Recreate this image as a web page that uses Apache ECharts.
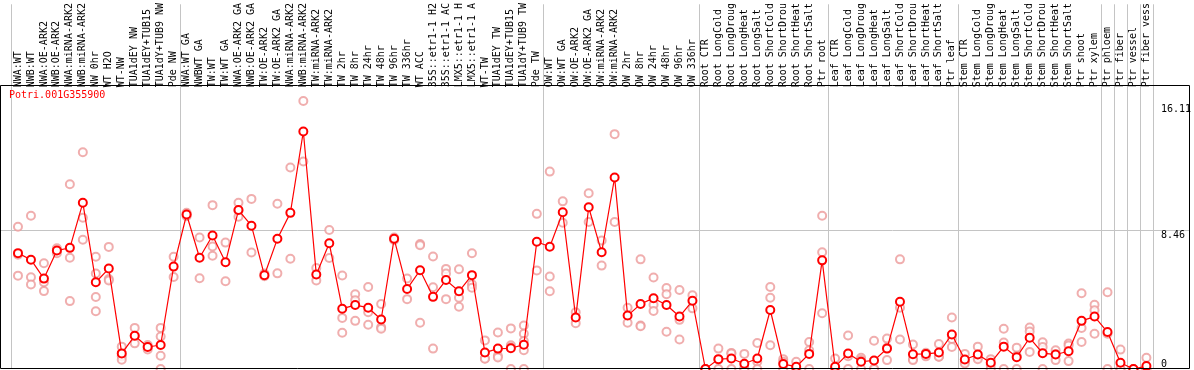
<!DOCTYPE html>
<html><head><meta charset="utf-8">
<script src="https://cdn.jsdelivr.net/npm/echarts@6/dist/echarts.min.js"></script>
<style>html,body{margin:0;padding:0;background:#fff}#c{width:1194px;height:370px}</style>
</head><body><div id="c"></div>
<script>
const geneId = 'Potri.001G355900';
const categories = [
 'NWA:WT','NWB:WT','NWA:OE-ARK2','NWB:OE-ARK2','NWA:miRNA-ARK2','NWB:miRNA-ARK2','NW 0hr','WT H2O','WT-NW','TUA1dEY NW','TUA1dEY+TUB15 NW','TUA1dY+TUB9 NW','Pde NW',
 'NWA:WT GA','NWBWT GA','TW:WT','TW:WT GA','NWA:OE-ARK2 GA','NWB:OE-ARK2 GA','TW:OE-ARK2','TW:OE-ARK2 GA','NWA:miRNA-ARK2 GA','NWB:miRNA-ARK2 GA','TW:miRNA-ARK2','TW:miRNA-ARK2 GA','TW 2hr','TW 8hr','TW 24hr','TW 48hr','TW 96hr','TW 336hr','WT ACC','35S::etr1-1 H2O','35S::etr1-1 ACC','LMX5::etr1-1 H2O','LMX5::etr1-1 ACC','WT-TW','TUA1dEY TW','TUA1dEY+TUB15 TW','TUA1dY+TUB9 TW','Pde TW',
 'OW:WT','OW:WT GA','OW:OE-ARK2','OW:OE-ARK2 GA','OW:miRNA-ARK2','OW:miRNA-ARK2 GA','OW 2hr','OW 8hr','OW 24hr','OW 48hr','OW 96hr','OW 336hr',
 'Root CTR','Root LongCold','Root LongDrought','Root LongHeat','Root LongSalt','Root ShortCold','Root ShortDrought','Root ShortHeat','Root ShortSalt','Ptr root',
 'Leaf CTR','Leaf LongCold','Leaf LongDrought','Leaf LongHeat','Leaf LongSalt','Leaf ShortCold','Leaf ShortDrought','Leaf ShortHeat','Leaf ShortSalt','Ptr leaf',
 'Stem CTR','Stem LongCold','Stem LongDrought','Stem LongHeat','Stem LongSalt','Stem ShortCold','Stem ShortDrought','Stem ShortHeat','Stem ShortSalt','Ptr shoot','Ptr xylem',
 'Ptr phloem','Ptr fiber','Ptr vessel','Ptr fiber vessel'
];
const means = [
 7.05,6.65,5.50,7.21,7.37,10.11,5.28,6.11,0.95,2.02,1.34,1.46,6.23,
 9.40,6.77,8.12,6.49,9.67,8.72,5.70,7.92,9.50,14.45,5.75,7.65,3.67,3.89,3.73,3.01,7.92,4.87,6.01,4.39,5.41,4.73,5.71,1.00,1.24,1.26,1.48,7.74,
 7.44,9.54,3.13,9.84,7.10,11.65,3.25,3.95,4.31,3.89,3.19,4.15,
 0.00,0.60,0.64,0.32,0.64,3.59,0.30,0.14,0.92,6.61,
 0.14,0.94,0.44,0.52,1.24,4.09,0.90,0.92,1.00,2.10,
 0.58,0.88,0.38,1.36,0.72,1.90,0.96,0.88,1.08,2.93,3.19,
 2.25,0.38,0.00,0.18
];
const replicates = [
 [8.66,6.95,5.68],[9.32,5.58,5.14],[6.43,5.28,4.74],[7.35,7.2,7.05],[11.24,6.77,4.13],[13.19,9.20,7.86],[6.83,5.81,4.38,3.51],[7.43,5.48,5.38],[1.36,0.77,0.57],[2.50,2.02,1.56],[1.46,1.34,1.19],[2.50,1.98,0.81,0.0],[6.83,5.60],
 [9.50,9.40,9.30],[8.00,5.52],[9.97,7.45,6.89],[7.69,5.34],[10.11,9.64,9.26],[10.35,7.09],[5.81,5.64],[10.05,5.82],[12.26,6.71],[16.31,12.62],[6.15,5.39],[8.46,6.75],[5.69,3.11,2.21],[4.55,4.19,2.93],[4.99,3.45,2.69],[3.95,2.54,2.45],[8.0,7.9,7.85],[5.51,4.25],[7.60,7.53,2.81],[6.84,4.97,1.24],[6.09,5.81,4.25],[6.07,4.33,3.79],[7.04,5.15,4.95],[1.74,0.64,0.62],[2.22,0.80,0.70],[2.47,1.44,1.32,0.0],[2.65,2.15,1.70,1.14,0.0],[9.44,6.00],
 [12.01,5.63,4.73],[10.20,8.90],[3.45,2.79],[10.69,8.94],[7.82,6.29],[14.29,8.94],[3.73,2.81],[6.67,2.65,2.60],[5.57,3.91,3.53],[4.93,4.55,2.27],[4.81,2.99,1.79],[4.49,3.69],
 [0.0,0.0],[1.24,0.56,0.0],[0.98,0.94,0.0],[0.92,0.05,0.0],[1.58,0.44,0.0],[4.99,4.33,1.44],[0.60,0.44,0.0],[0.44,0.0,0.0],[1.64,1.14,0.0],[9.32,7.10,3.39],
 [0.64,0.0,0.0],[2.04,0.78,0.0],[0.68,0.54,0.0],[1.72,0.0,0.0],[1.85,1.30,0.54],[6.67,3.73,1.79],[1.49,0.60,0.54],[0.99,0.92,0.77],[1.52,0.74,0.74],[3.13,1.83,1.34],
 [0.92,0.44,0.34],[1.36,0.70,0.60],[0.60,0.24,0.0],[2.45,1.61,0.0],[1.30,0.80,0.0],[2.53,2.28,1.04],[1.62,1.34,0.0],[1.14,0.90,0.54],[1.55,1.43,0.48],[4.61,2.49,1.64],[3.91,3.57,2.15],
 [4.67,2.15,0.0],[1.18,0.0,0.0],[0.0,0.0],[0.68,0.0,0.0]
];
const groupStarts = [0,13,41,53,63,73,84,85,86,87,88];
const yTickValues = [0, 8.46, 16.11];
const yMax = 22.19;

const FONT = 'DejaVu Sans Mono';
const repPoints = [];
replicates.forEach((arr, i) => arr.forEach(v => repPoints.push([categories[i], v])));

const chart = echarts.init(document.getElementById('c'), null, {renderer: 'canvas'});
const option = {
  animation: false,
  title: { text: geneId, left: 9, top: 90, padding: 0,
    textStyle: { color: '#ff0000', fontFamily: FONT, fontSize: 10, fontWeight: 'normal' } },
  grid: { left: 11.5, right: 37.9, top: 0, bottom: 1, containLabel: false },
  xAxis: {
    type: 'category', data: categories, position: 'top', offset: -85, boundaryGap: true,
    axisLine: { show: false }, axisTick: { show: false },
    axisLabel: { interval: 0, rotate: 90, margin: 2, fontFamily: FONT, fontSize: 10, color: '#000',
      width: 86, overflow: 'truncate', ellipsis: '' },
    splitLine: { show: true, interval: (idx) => groupStarts.includes(idx),
      lineStyle: { color: '#c4c4c4', width: 1 } }
  },
  yAxis: [
    { type: 'value', min: 0, max: yMax, position: 'right', splitLine: { show: false },
      axisLine: { show: false }, axisTick: { show: false },
      axisLabel: { customValues: [yTickValues[1], yTickValues[2]], margin: 8, verticalAlign: 'top',
        fontFamily: FONT, fontSize: 10, color: '#000', formatter: v => String(v) } },
    { type: 'value', min: 0, max: yMax, position: 'right', splitLine: { show: false },
      axisLine: { show: false }, axisTick: { show: false },
      axisLabel: { customValues: [yTickValues[0]], margin: 8, verticalAlign: 'bottom',
        fontFamily: FONT, fontSize: 10, color: '#000', formatter: v => String(v) } }
  ],
  series: [
    { type: 'scatter', data: repPoints, symbol: 'emptyCircle', symbolSize: 8, z: 2,
      itemStyle: { color: '#ec9a9a', borderColor: '#ec9a9a', borderWidth: 1.2 }, silent: true },
    { type: 'line', data: means, symbol: 'emptyCircle', symbolSize: 8, z: 3,
      lineStyle: { color: '#ff0000', width: 1.2 },
      itemStyle: { color: '#ff0000', borderColor: '#ff0000', borderWidth: 1.6 }, silent: true }
  ]
};
chart.setOption(option);
const yLine = chart.convertToPixel({ yAxisIndex: 0 }, yTickValues[1]);
chart.setOption({ graphic: [
  { type: 'line', z: 0, silent: true, shape: { x1: 0, y1: Math.round(yLine) + 0.5, x2: 1190, y2: Math.round(yLine) + 0.5 },
    style: { stroke: '#c4c4c4', lineWidth: 1 } },
  { type: 'rect', z: 100, silent: true, shape: { x: 0.5, y: 85.5, width: 1189, height: 283 },
    style: { fill: null, stroke: '#000', lineWidth: 1 } }
] });
</script>
</body></html>
